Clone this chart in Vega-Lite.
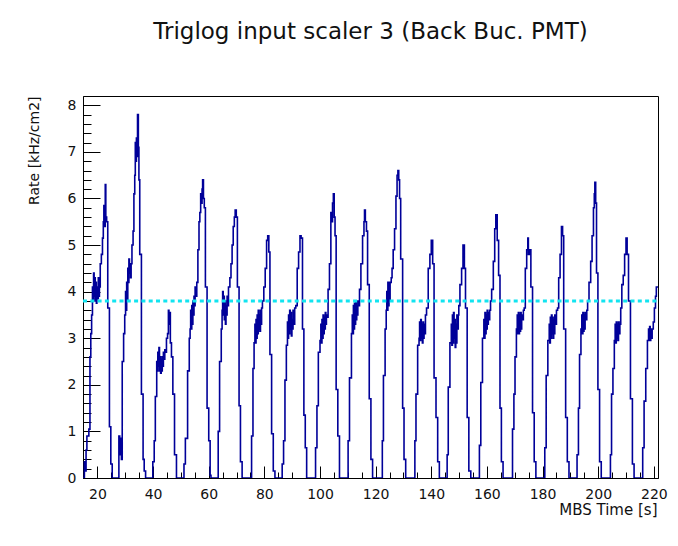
{
  "$schema": "https://vega.github.io/schema/vega-lite/v6.json",
  "width": 575,
  "height": 382,
  "autosize": {"type": "none"},
  "padding": {"left": 83, "top": 96, "right": 20, "bottom": 68},
  "background": "white",
  "title": {
    "text": "Triglog input scaler 3 (Back Buc. PMT)",
    "font": "DejaVu Sans",
    "fontSize": 23,
    "fontWeight": "normal",
    "color": "#111111",
    "anchor": "middle",
    "frame": "group",
    "baseline": "alphabetic",
    "offset": 34
  },
  "config": {
    "view": {"stroke": "#000000", "strokeWidth": 1},
    "axis": {
      "labelFont": "DejaVu Sans",
      "labelFontSize": 14,
      "labelColor": "#111111",
      "titleFont": "DejaVu Sans",
      "titleFontWeight": "normal",
      "titleColor": "#111111",
      "domainColor": "#000000",
      "tickColor": "#000000",
      "grid": false,
      "labelFlush": false,
      "labelOverlap": false
    }
  },
  "resolve": {"axis": {"x": "independent", "y": "independent"}},
  "layer": [
    {
      "data": {
        "values": [
          {"t":14.8,"v":0},{"t":15.3,"v":0.35},{"t":15.6,"v":0.15},{"t":15.9,"v":0.6},{"t":16.2,"v":0.9},{"t":16.9,"v":1.05},{"t":17.3,"v":2.6},{"t":17.6,"v":3.1},{"t":17.9,"v":3.5},{"t":18.2,"v":4.1},{"t":18.4,"v":3.8},{"t":18.6,"v":4.4},{"t":18.8,"v":3.9},{"t":19.0,"v":4.3},{"t":19.2,"v":3.8},{"t":19.4,"v":4.2},{"t":19.6,"v":3.75},{"t":19.8,"v":4.1},{"t":20.0,"v":3.85},{"t":20.3,"v":4.3},{"t":20.5,"v":3.9},{"t":20.7,"v":4.1},{"t":21.0,"v":4.6},{"t":21.4,"v":4.8},{"t":21.8,"v":5.15},{"t":22.1,"v":5.5},{"t":22.3,"v":5.85},{"t":22.6,"v":5.4},{"t":22.8,"v":6.3},{"t":23.0,"v":5.6},{"t":23.3,"v":5.5},{"t":23.7,"v":3.65},{"t":24.3,"v":1.1},{"t":24.8,"v":0.3},{"t":25.3,"v":0},
          {"t":27.7,"v":0.9},{"t":28.0,"v":0.5},{"t":28.3,"v":0.85},{"t":28.6,"v":0.4},{"t":28.9,"v":2.5},{"t":29.4,"v":3.1},{"t":29.8,"v":3.5},{"t":30.1,"v":4.0},{"t":30.3,"v":3.6},{"t":30.5,"v":4.2},{"t":30.7,"v":3.8},{"t":30.9,"v":4.5},{"t":31.1,"v":4.2},{"t":31.3,"v":4.7},{"t":31.5,"v":4.4},{"t":31.7,"v":4.6},{"t":31.9,"v":4.3},{"t":32.1,"v":4.6},{"t":32.4,"v":5.0},{"t":32.8,"v":5.3},{"t":33.1,"v":6.1},{"t":33.4,"v":6.5},{"t":33.6,"v":7.2},{"t":33.8,"v":6.8},{"t":34.0,"v":7.3},{"t":34.2,"v":6.9},{"t":34.4,"v":7.8},{"t":34.7,"v":7.1},{"t":34.9,"v":6.4},{"t":35.2,"v":4.8},{"t":35.8,"v":1.8},{"t":36.4,"v":0.4},{"t":36.8,"v":0.15},{"t":37.3,"v":0},
          {"t":39.9,"v":0.35},{"t":40.4,"v":0.8},{"t":40.8,"v":1.75},{"t":41.3,"v":2.5},{"t":41.5,"v":2.3},{"t":41.7,"v":2.7},{"t":41.9,"v":2.4},{"t":42.1,"v":2.8},{"t":42.3,"v":2.3},{"t":42.5,"v":2.6},{"t":42.7,"v":2.25},{"t":42.9,"v":2.55},{"t":43.1,"v":2.3},{"t":43.3,"v":2.6},{"t":43.5,"v":2.4},{"t":43.7,"v":2.7},{"t":43.9,"v":2.55},{"t":44.2,"v":2.75},{"t":44.5,"v":2.7},{"t":44.8,"v":3.0},{"t":45.2,"v":3.1},{"t":45.5,"v":3.6},{"t":45.7,"v":3.3},{"t":45.9,"v":3.55},{"t":46.2,"v":2.9},{"t":46.6,"v":2.6},{"t":47.1,"v":1.8},{"t":47.7,"v":0.5},{"t":48.4,"v":0},
          {"t":51.1,"v":0.3},{"t":51.6,"v":0.85},{"t":52.4,"v":2.3},{"t":53.0,"v":3.0},{"t":53.3,"v":3.2},{"t":53.5,"v":3.6},{"t":53.7,"v":3.2},{"t":53.9,"v":3.7},{"t":54.1,"v":3.3},{"t":54.3,"v":3.8},{"t":54.5,"v":3.5},{"t":54.7,"v":3.9},{"t":54.9,"v":3.7},{"t":55.1,"v":4.1},{"t":55.4,"v":3.9},{"t":55.7,"v":4.2},{"t":56.1,"v":4.9},{"t":56.5,"v":5.5},{"t":56.8,"v":5.7},{"t":57.1,"v":6.1},{"t":57.3,"v":5.9},{"t":57.6,"v":6.2},{"t":57.8,"v":6.4},{"t":58.1,"v":6.0},{"t":58.4,"v":5.8},{"t":58.8,"v":4.1},{"t":59.4,"v":1.5},{"t":60.0,"v":0.8},{"t":60.5,"v":0.06},{"t":60.8,"v":0},
          {"t":63.4,"v":1.0},{"t":63.9,"v":2.5},{"t":64.5,"v":3.2},{"t":64.8,"v":3.6},{"t":65.0,"v":4.0},{"t":65.2,"v":3.5},{"t":65.4,"v":3.9},{"t":65.6,"v":3.4},{"t":65.8,"v":3.8},{"t":66.0,"v":3.3},{"t":66.2,"v":3.7},{"t":66.4,"v":3.5},{"t":66.6,"v":3.9},{"t":66.8,"v":3.7},{"t":67.1,"v":4.1},{"t":67.6,"v":4.3},{"t":68.0,"v":4.6},{"t":68.4,"v":5.0},{"t":68.8,"v":5.4},{"t":69.2,"v":5.6},{"t":69.5,"v":5.75},{"t":69.9,"v":5.6},{"t":70.3,"v":4.1},{"t":70.9,"v":1.55},{"t":71.4,"v":0.35},{"t":72.0,"v":0},
          {"t":75.4,"v":0.9},{"t":75.9,"v":2.35},{"t":76.3,"v":2.9},{"t":76.6,"v":3.3},{"t":76.8,"v":2.9},{"t":77.0,"v":3.4},{"t":77.2,"v":3.0},{"t":77.4,"v":3.5},{"t":77.6,"v":3.1},{"t":77.8,"v":3.6},{"t":78.0,"v":3.2},{"t":78.2,"v":3.5},{"t":78.4,"v":3.15},{"t":78.6,"v":3.6},{"t":78.8,"v":3.3},{"t":79.0,"v":3.65},{"t":79.3,"v":3.8},{"t":79.8,"v":4.1},{"t":80.3,"v":4.5},{"t":80.8,"v":5.1},{"t":81.2,"v":5.2},{"t":81.6,"v":4.85},{"t":82.0,"v":2.65},{"t":82.6,"v":0.95},{"t":83.2,"v":0.15},{"t":83.8,"v":0},
          {"t":86.4,"v":0.3},{"t":86.9,"v":0.8},{"t":87.4,"v":2.1},{"t":87.9,"v":2.85},{"t":88.3,"v":3.35},{"t":88.5,"v":3.0},{"t":88.7,"v":3.5},{"t":88.9,"v":3.1},{"t":89.1,"v":3.6},{"t":89.3,"v":3.2},{"t":89.5,"v":3.55},{"t":89.7,"v":3.05},{"t":89.9,"v":3.4},{"t":90.1,"v":3.2},{"t":90.3,"v":3.6},{"t":90.6,"v":3.3},{"t":90.9,"v":3.65},{"t":91.3,"v":3.7},{"t":91.8,"v":4.5},{"t":92.3,"v":4.85},{"t":92.8,"v":5.2},{"t":93.2,"v":5.15},{"t":93.7,"v":3.2},{"t":94.2,"v":1.35},{"t":94.7,"v":0.65},{"t":95.2,"v":0},
          {"t":98.4,"v":0.65},{"t":98.9,"v":1.55},{"t":99.4,"v":2.7},{"t":100.0,"v":2.95},{"t":100.3,"v":3.3},{"t":100.5,"v":2.9},{"t":100.7,"v":3.4},{"t":100.9,"v":3.0},{"t":101.1,"v":3.5},{"t":101.3,"v":3.1},{"t":101.5,"v":3.45},{"t":101.7,"v":3.2},{"t":101.9,"v":3.55},{"t":102.1,"v":3.3},{"t":102.3,"v":3.5},{"t":102.6,"v":3.45},{"t":102.9,"v":4.05},{"t":103.4,"v":4.6},{"t":103.9,"v":5.7},{"t":104.2,"v":5.5},{"t":104.5,"v":5.9},{"t":104.8,"v":6.1},{"t":105.1,"v":5.6},{"t":105.4,"v":5.2},{"t":105.8,"v":1.9},{"t":106.4,"v":0.9},{"t":107.0,"v":0},
          {"t":110.1,"v":0.8},{"t":110.6,"v":2.15},{"t":111.3,"v":3.1},{"t":111.6,"v":3.5},{"t":111.8,"v":3.1},{"t":112.0,"v":3.7},{"t":112.2,"v":3.2},{"t":112.4,"v":3.75},{"t":112.6,"v":3.3},{"t":112.8,"v":3.8},{"t":113.0,"v":3.4},{"t":113.2,"v":3.7},{"t":113.4,"v":3.5},{"t":113.6,"v":3.8},{"t":113.9,"v":3.7},{"t":114.2,"v":4.05},{"t":114.7,"v":4.6},{"t":115.3,"v":5.2},{"t":115.8,"v":5.5},{"t":116.0,"v":5.75},{"t":116.3,"v":5.5},{"t":116.7,"v":5.3},{"t":117.1,"v":4.15},{"t":117.7,"v":1.7},{"t":118.3,"v":0.4},{"t":118.9,"v":0},
          {"t":122.4,"v":0.8},{"t":122.8,"v":2.2},{"t":123.4,"v":3.2},{"t":123.8,"v":3.6},{"t":124.0,"v":4.0},{"t":124.2,"v":3.6},{"t":124.4,"v":4.2},{"t":124.6,"v":3.7},{"t":124.8,"v":4.2},{"t":125.0,"v":3.8},{"t":125.2,"v":4.2},{"t":125.6,"v":4.3},{"t":125.9,"v":4.5},{"t":126.3,"v":4.9},{"t":126.8,"v":5.35},{"t":127.3,"v":6.05},{"t":127.7,"v":6.5},{"t":128.0,"v":6.6},{"t":128.3,"v":6.4},{"t":128.6,"v":6.0},{"t":129.0,"v":4.7},{"t":129.7,"v":1.5},{"t":130.2,"v":0.4},{"t":130.8,"v":0},
          {"t":134.1,"v":0.8},{"t":134.5,"v":1.8},{"t":135.1,"v":2.85},{"t":135.6,"v":3.0},{"t":135.8,"v":3.35},{"t":136.0,"v":2.95},{"t":136.2,"v":3.4},{"t":136.4,"v":3.0},{"t":136.6,"v":3.3},{"t":136.8,"v":2.9},{"t":137.0,"v":3.35},{"t":137.2,"v":3.0},{"t":137.4,"v":3.3},{"t":137.6,"v":3.1},{"t":137.9,"v":3.5},{"t":138.3,"v":3.65},{"t":138.9,"v":4.5},{"t":139.5,"v":4.8},{"t":140.0,"v":5.1},{"t":140.5,"v":4.6},{"t":141.0,"v":2.15},{"t":141.7,"v":1.3},{"t":142.3,"v":0.35},{"t":142.9,"v":0},
          {"t":145.7,"v":0.5},{"t":146.1,"v":1.95},{"t":146.7,"v":2.9},{"t":147.2,"v":3.3},{"t":147.4,"v":2.85},{"t":147.6,"v":3.5},{"t":147.8,"v":2.9},{"t":148.0,"v":3.55},{"t":148.2,"v":3.0},{"t":148.4,"v":3.4},{"t":148.6,"v":2.8},{"t":148.8,"v":3.3},{"t":149.0,"v":2.9},{"t":149.2,"v":3.5},{"t":149.4,"v":3.2},{"t":149.7,"v":3.5},{"t":149.9,"v":3.7},{"t":150.3,"v":4.15},{"t":150.9,"v":4.5},{"t":151.4,"v":5.0},{"t":151.9,"v":4.5},{"t":152.3,"v":3.65},{"t":152.9,"v":1.3},{"t":153.5,"v":0.15},{"t":154.2,"v":0},
          {"t":157.3,"v":0.7},{"t":157.8,"v":2.05},{"t":158.4,"v":3.0},{"t":158.9,"v":3.4},{"t":159.1,"v":3.0},{"t":159.3,"v":3.55},{"t":159.5,"v":3.1},{"t":159.7,"v":3.5},{"t":159.9,"v":3.2},{"t":160.1,"v":3.6},{"t":160.3,"v":3.3},{"t":160.5,"v":3.55},{"t":160.7,"v":3.4},{"t":161.0,"v":3.6},{"t":161.3,"v":3.8},{"t":161.7,"v":4.05},{"t":162.3,"v":4.65},{"t":162.8,"v":5.35},{"t":163.2,"v":5.65},{"t":163.7,"v":5.1},{"t":164.2,"v":4.35},{"t":164.7,"v":1.5},{"t":165.2,"v":0.35},{"t":165.8,"v":0},
          {"t":169.2,"v":1.05},{"t":169.7,"v":1.8},{"t":170.1,"v":2.6},{"t":170.6,"v":3.2},{"t":170.9,"v":3.5},{"t":171.1,"v":3.1},{"t":171.3,"v":3.55},{"t":171.5,"v":3.1},{"t":171.7,"v":3.5},{"t":171.9,"v":3.15},{"t":172.1,"v":3.55},{"t":172.3,"v":3.2},{"t":172.5,"v":3.5},{"t":172.8,"v":3.4},{"t":173.1,"v":3.6},{"t":173.4,"v":3.65},{"t":173.8,"v":4.5},{"t":174.3,"v":4.9},{"t":174.7,"v":5.15},{"t":174.9,"v":4.8},{"t":175.3,"v":4.9},{"t":175.8,"v":4.1},{"t":176.4,"v":1.4},{"t":177.0,"v":0.35},{"t":177.6,"v":0},
          {"t":180.8,"v":0.65},{"t":181.3,"v":2.2},{"t":181.9,"v":2.95},{"t":182.4,"v":3.3},{"t":182.6,"v":2.9},{"t":182.8,"v":3.45},{"t":183.0,"v":3.0},{"t":183.2,"v":3.5},{"t":183.4,"v":3.1},{"t":183.6,"v":3.45},{"t":183.8,"v":3.0},{"t":184.0,"v":3.4},{"t":184.2,"v":3.1},{"t":184.4,"v":3.5},{"t":184.7,"v":3.3},{"t":185.0,"v":3.6},{"t":185.4,"v":3.65},{"t":185.8,"v":4.3},{"t":186.3,"v":4.8},{"t":186.8,"v":5.4},{"t":187.2,"v":5.2},{"t":187.6,"v":3.2},{"t":188.3,"v":1.3},{"t":188.9,"v":0.35},{"t":189.5,"v":0},
          {"t":192.4,"v":0.5},{"t":192.9,"v":1.5},{"t":193.3,"v":2.65},{"t":193.8,"v":3.2},{"t":194.1,"v":3.5},{"t":194.3,"v":3.1},{"t":194.5,"v":3.55},{"t":194.7,"v":3.15},{"t":194.9,"v":3.5},{"t":195.1,"v":3.2},{"t":195.3,"v":3.55},{"t":195.6,"v":3.4},{"t":195.9,"v":3.6},{"t":196.2,"v":3.8},{"t":196.7,"v":4.2},{"t":197.3,"v":4.65},{"t":197.8,"v":5.2},{"t":198.3,"v":5.8},{"t":198.6,"v":6.1},{"t":198.8,"v":6.35},{"t":199.1,"v":5.9},{"t":199.4,"v":4.4},{"t":199.9,"v":1.9},{"t":200.5,"v":0.35},{"t":201.1,"v":0},
          {"t":204.4,"v":0.5},{"t":204.8,"v":1.8},{"t":205.3,"v":2.35},{"t":205.8,"v":2.95},{"t":206.1,"v":3.3},{"t":206.3,"v":2.9},{"t":206.5,"v":3.35},{"t":206.7,"v":3.0},{"t":206.9,"v":3.3},{"t":207.1,"v":2.95},{"t":207.3,"v":3.35},{"t":207.5,"v":3.1},{"t":207.8,"v":3.3},{"t":208.1,"v":3.65},{"t":208.5,"v":4.15},{"t":209.0,"v":4.35},{"t":209.5,"v":4.8},{"t":210.0,"v":5.15},{"t":210.4,"v":4.8},{"t":210.9,"v":3.8},{"t":211.6,"v":1.7},{"t":212.3,"v":0.3},{"t":212.9,"v":0},
          {"t":216.0,"v":0.65},{"t":216.5,"v":1.65},{"t":217.1,"v":2.35},{"t":217.7,"v":2.95},{"t":218.1,"v":3.2},{"t":218.3,"v":2.95},{"t":218.5,"v":3.25},{"t":218.7,"v":2.95},{"t":218.9,"v":3.2},{"t":219.1,"v":3.0},{"t":219.4,"v":3.2},{"t":219.8,"v":3.35},{"t":220.2,"v":3.65},{"t":220.6,"v":3.9},{"t":220.9,"v":4.1},{"t":221.5,"v":4.1}
        ]
      },
      "mark": {"type": "line", "interpolate": "step-after", "color": "#000099", "strokeWidth": 1.6, "clip": true},
      "encoding": {
        "x": {
          "field": "t",
          "type": "quantitative",
          "scale": {"domain": [14.8, 221.5], "nice": false, "zero": false},
          "axis": {
            "orient": "bottom",
            "values": [20,40,60,80,100,120,140,160,180,200,220],
            "tickSize": -12,
            "labelPadding": 21,
            "labelBaseline": "top",
            "title": "MBS Time [s]",
            "titleFontSize": 15,
            "titleAnchor": "end",
            "titleAlign": "right",
            "titleBaseline": "alphabetic",
            "titleX": 574,
            "titleY": 36
          }
        },
        "y": {
          "field": "v",
          "type": "quantitative",
          "scale": {"domain": [0, 8.2], "nice": false},
          "axis": {
            "orient": "left",
            "values": [0,1,2,3,4,5,6,7,8],
            "tickSize": -17,
            "labelPadding": 24,
            "title": "Rate [kHz/cm2]",
            "titleFontSize": 14,
            "titleAngle": 270,
            "titleAlign": "right",
            "titleBaseline": "middle",
            "titleX": -49,
            "titleY": 0
          }
        }
      }
    },
    {
      "data": {"values": [{"level": 3.8, "start": 14.8, "end": 221.5}]},
      "mark": {"type": "rule", "color": "#12e4f0", "strokeWidth": 3, "strokeDash": [4, 3.3]},
      "encoding": {
        "x": {
          "field": "start",
          "type": "quantitative",
          "axis": {
            "orient": "bottom",
            "values": [25,30,35,45,50,55,65,70,75,85,90,95,105,110,115,125,130,135,145,150,155,165,170,175,185,190,195,205,210,215],
            "tickSize": -6,
            "labels": false,
            "domain": false,
            "title": null
          }
        },
        "x2": {"field": "end"},
        "y": {
          "field": "level",
          "type": "quantitative",
          "axis": {
            "orient": "left",
            "values": [0.2,0.4,0.6,0.8,1.2,1.4,1.6,1.8,2.2,2.4,2.6,2.8,3.2,3.4,3.6,3.8,4.2,4.4,4.6,4.8,5.2,5.4,5.6,5.8,6.2,6.4,6.6,6.8,7.2,7.4,7.6,7.8],
            "tickSize": -8,
            "labels": false,
            "domain": false,
            "title": null
          }
        }
      }
    }
  ]
}
